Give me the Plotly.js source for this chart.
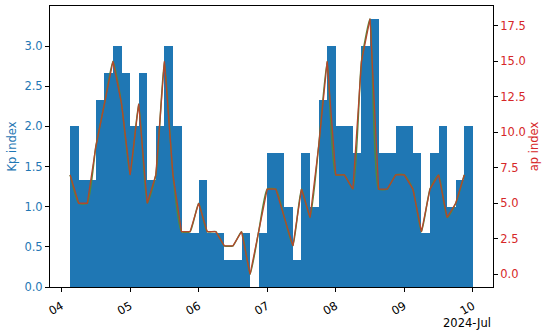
<!DOCTYPE html>
<html>
<head>
<meta charset="utf-8">
<script src="https://cdn.plot.ly/plotly-3.0.1.min.js"></script>
<style>
  html, body { margin: 0; padding: 0; background: #fff; }
  #chart { width: 550px; height: 334px; }
</style>
</head>
<body>
<div id="chart"></div>
<script>
var START_TIME = "2024-07-04T03:00:00";
var STEP_HOURS = 3;

// Kp per 3-hour slot, 4 Jul 03:00 to 9 Jul 21:00
var kpValues = [
  2.0, 1.333, 1.333, 2.333, 2.667, 3.0, 2.667, 2.0,
  2.667, 1.333, 2.0, 3.0, 2.0, 0.667, 0.667, 1.333,
  0.667, 0.667, 0.333, 0.333, 0.667, 0.0, 0.667, 1.667,
  1.667, 1.0, 0.333, 1.667, 1.0, 2.333, 3.0, 2.0,
  2.0, 1.667, 3.0, 3.333, 1.667, 1.667, 2.0, 2.0,
  1.667, 0.667, 1.667, 2.0, 1.0, 1.333, 2.0
];

var apValues = [
  7, 5, 5, 9, 12, 15, 12, 7,
  12, 5, 7, 15, 7, 3, 3, 5,
  3, 3, 2, 2, 3, 0, 3, 6,
  6, 4, 2, 6, 4, 9, 15, 7,
  7, 6, 15, 18, 6, 6, 7, 7,
  6, 3, 6, 7, 4, 5, 7
];

var dayTicks = ["2024-07-04", "2024-07-05", "2024-07-06", "2024-07-07", "2024-07-08", "2024-07-09", "2024-07-10"];

var pad = function(n) { return (n < 10 ? "0" : "") + n; };

var slotTimes = function(count) {
  var t0 = new Date(START_TIME + "Z").getTime();
  var out = [];
  for (var i = 0; i < count; i++) {
    var d = new Date(t0 + i * STEP_HOURS * 3600 * 1000);
    out.push(d.getUTCFullYear() + "-" + pad(d.getUTCMonth() + 1) + "-" + pad(d.getUTCDate()) +
      " " + pad(d.getUTCHours()) + ":00");
  }
  return out;
};

var times = slotTimes(kpValues.length);
var BLUE = "#1f77b4";
var RED = "#d62728";
var FONT = "DejaVu Sans, sans-serif";
var FS = 11.5;

var data = [
  {
    type: "bar",
    x: times,
    y: kpValues,
    offset: 0,
    width: STEP_HOURS * 3600 * 1000,
    marker: { color: BLUE, line: { width: 0 } }
  },
  {
    type: "scatter",
    mode: "lines",
    x: times,
    y: apValues,
    yaxis: "y2",
    line: { color: "#55893a", width: 1.5, shape: "spline", smoothing: 0.5 }
  },
  {
    type: "scatter",
    mode: "lines",
    x: times,
    y: apValues,
    yaxis: "y2",
    line: { color: "#b2472d", width: 1.3 }
  }
];

var layout = {
  width: 550,
  height: 334,
  margin: { l: 50, r: 57, t: 6, b: 47 },
  paper_bgcolor: "#fff",
  plot_bgcolor: "#fff",
  showlegend: false,
  bargap: 0,
  font: { family: FONT, size: FS, color: "#000" },
  xaxis: {
    type: "date",
    range: ["2024-07-03 19:57", "2024-07-10 07:03"],
    tickvals: dayTicks,
    tickformat: "%d",
    tickangle: -30,
    ticks: "outside",
    ticklen: 4,
    tickcolor: "#000",
    ticklabelstandoff: 3,
    showgrid: false,
    zeroline: false,
    showline: true,
    linecolor: "#000",
    linewidth: 1,
    mirror: true
  },
  yaxis: {
    range: [0, 3.5],
    tickvals: [0, 0.5, 1, 1.5, 2, 2.5, 3],
    tickformat: ".1f",
    ticks: "outside",
    ticklen: 4,
    tickcolor: "#000",
    tickfont: { color: BLUE },
    title: { text: "Kp index", font: { color: BLUE, size: FS }, standoff: 5 },
    showgrid: false,
    zeroline: false,
    showline: true,
    linecolor: "#000",
    linewidth: 1
  },
  yaxis2: {
    overlaying: "y",
    side: "right",
    range: [-0.9, 18.9],
    tickvals: [0, 2.5, 5, 7.5, 10, 12.5, 15, 17.5],
    tickformat: ".1f",
    ticks: "outside",
    ticklen: 4,
    tickcolor: "#000",
    tickfont: { color: RED },
    title: { text: "ap index", font: { color: RED, size: FS }, standoff: 5 },
    showgrid: false,
    zeroline: false,
    showline: true,
    linecolor: "#000",
    linewidth: 1
  },
  annotations: [
    {
      xref: "paper", yref: "paper",
      x: 1, y: -0.095,
      xanchor: "right", yanchor: "top",
      text: "2024-Jul",
      showarrow: false,
      font: { family: FONT, size: FS, color: "#000" }
    }
  ]
};

Plotly.newPlot(document.getElementById("chart"), data, layout, { displayModeBar: false, staticPlot: true });
</script>
</body>
</html>
